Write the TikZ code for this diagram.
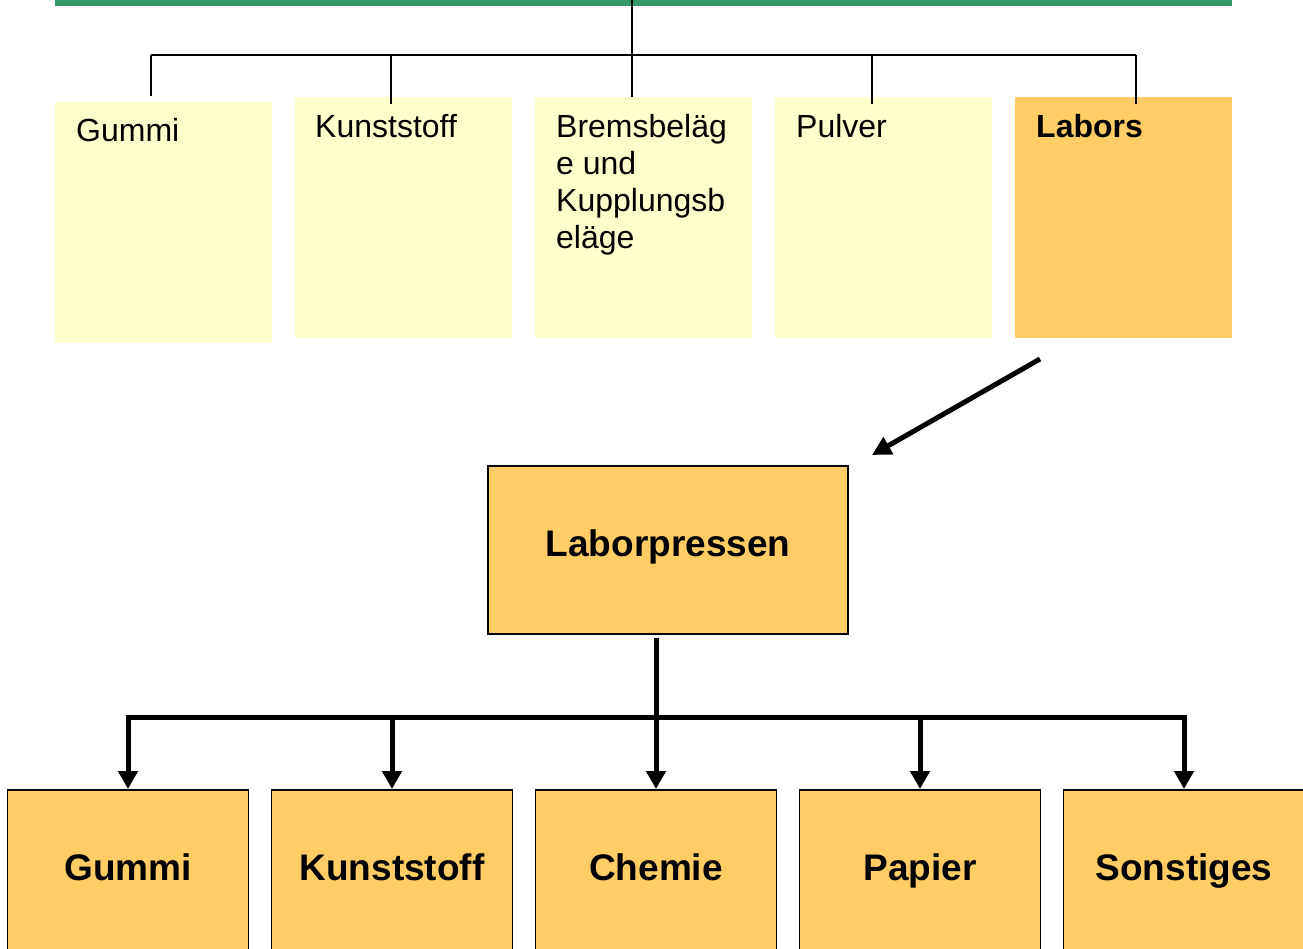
\documentclass[tikz,border=0pt]{standalone}
\usepackage{fontspec}
\setmainfont{Liberation Sans}
\usetikzlibrary{arrows.meta,calc}
\definecolor{paleyellow}{HTML}{FFFFCC}
\definecolor{orangebox}{HTML}{FFCC66}
\definecolor{barGreen}{HTML}{339966}
\begin{document}
\begin{tikzpicture}[x=1pt,y=-1pt,
  topbox/.style={rectangle, inner sep=0pt, minimum width=217pt, minimum height=241pt, anchor=north west},
  toptext/.style={inner sep=0pt, anchor=base west, font=\fontsize{32}{37}\selectfont},
  thinline/.style={line width=1.5pt, black},
  lpbox/.style={rectangle, draw=black, line width=2pt, fill=orangebox, inner sep=0pt,
     minimum width=360pt, minimum height=168pt, text height=27pt, text depth=15pt,
     font=\fontsize{37}{40}\selectfont\bfseries},
  botbox/.style={rectangle, draw=black, line width=1.5pt, fill=orangebox, inner sep=0pt, anchor=north,
     minimum width=241pt, minimum height=184pt, text height=27pt, text depth=29pt,
     font=\fontsize{37}{40}\selectfont\bfseries},
  bigarrow/.style={line width=5pt, black, -{Triangle[length=19pt,width=19pt]}},
  treeline/.style={line width=5pt, black},
  treearrow/.style={line width=5pt, black, -{Triangle[length=18pt,width=19pt]}}
]
\useasboundingbox (0,0) rectangle (1303,948);

% green bar
\node[fill=barGreen, inner sep=0pt, minimum width=1177pt, minimum height=8pt, anchor=south west] (bar) at (55,6) {};

% top boxes
\node[topbox, fill=paleyellow] (tGummi) at (55,102) {};
\node[topbox, fill=paleyellow] (tKunst) at (295,97) {};
\node[topbox, fill=paleyellow] (tBrems) at (535,97) {};
\node[topbox, fill=paleyellow] (tPulver) at (775,97) {};
\node[topbox, fill=orangebox] (tLabors) at (1015,97) {};

\node[toptext] (tGummiTxt) at (76,141) {Gummi};
\node[toptext] (tKunstTxt) at (315,137) {Kunststoff};
\node[toptext, anchor=north west, align=left] (tBremsTxt) at (556,114) {Bremsbeläg\\e und\\Kupplungsb\\eläge};
\node[toptext] (tPulverTxt) at (796,137) {Pulver};
\node[toptext, font=\fontsize{32}{37}\selectfont\bfseries] (tLaborsTxt) at (1036,137) {Labors};

% top connectors
\coordinate (topHub) at (632,55);
\coordinate (topBusL) at (151,55);
\coordinate (topBusR) at (1136,55);
\draw[thinline] (topHub |- bar.north) -- (topHub);
\draw[thinline] (topBusL) -- (topBusR);
\draw[thinline] ([xshift=-12.5pt]tGummi.north |- topHub) -- ([xshift=-12.5pt,yshift=6pt]tGummi.north);
\draw[thinline] ([xshift=-12.5pt]tKunst.north |- topHub) -- ([xshift=-12.5pt,yshift=-7pt]tKunst.north);
\draw[thinline] ([xshift=-11.5pt]tBrems.north |- topHub) -- ([xshift=-11.5pt]tBrems.north);
\draw[thinline] ([xshift=-11.5pt]tPulver.north |- topHub) -- ([xshift=-11.5pt,yshift=-7pt]tPulver.north);
\draw[thinline] ([xshift=12.5pt]tLabors.north |- topHub) -- ([xshift=12.5pt,yshift=-7pt]tLabors.north);

% arrow from Labors to Laborpressen
\coordinate (arrStart) at (1040,359);
\coordinate (arrEnd) at (872,455);
\draw[bigarrow] (arrStart) -- (arrEnd);

% Laborpressen
\node[lpbox] (lp) at (668,550) {Laborpressen};

% bottom boxes
\node[botbox] (bGummi) at (128,789) {Gummi};
\node[botbox] (bKunst) at (392,789) {Kunststoff};
\node[botbox] (bChemie) at (656,789) {Chemie};
\node[botbox] (bPapier) at (920,789) {Papier};
\node[botbox] (bSonst) at (1184,789) {Sonstiges};

% tree connectors
\coordinate (lpOut) at (656,638);
\coordinate (bus) at (656,717);
\draw[treeline, line cap=rect] (bus -| bGummi.north) -- (bus -| bSonst.north);
\draw[treearrow] (lpOut) -- (bChemie.north);
\draw[treearrow] (bus -| bGummi.north) -- (bGummi.north);
\draw[treearrow] (bus -| bKunst.north) -- (bKunst.north);
\draw[treearrow] (bus -| bPapier.north) -- (bPapier.north);
\draw[treearrow] (bus -| bSonst.north) -- (bSonst.north);
\end{tikzpicture}
\end{document}
